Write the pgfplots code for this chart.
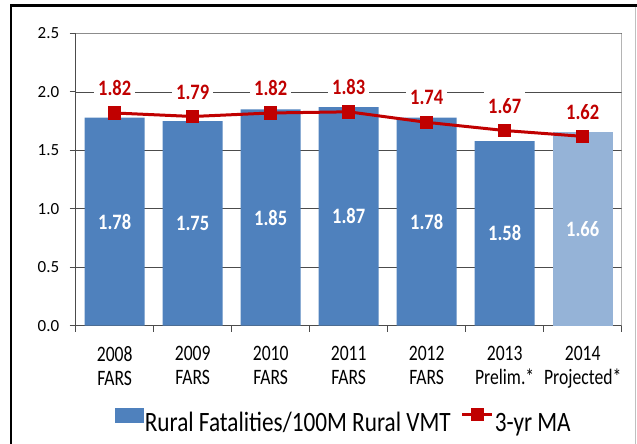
\documentclass[border=0pt]{standalone}
\usepackage{pgfplots}
\pgfplotsset{compat=1.18}
\usepackage{fontspec}
\setmainfont{Carlito}
\newfontfamily\legfont[FakeStretch=0.83]{Carlito}
\newfontfamily\xfont[FakeStretch=0.8]{Carlito}
\newfontfamily\labfont[FakeStretch=0.84]{Carlito}
\definecolor{barblue}{HTML}{4F81BD}
\definecolor{barlight}{HTML}{95B3D7}
\definecolor{lred}{HTML}{C00000}
\begin{document}
\begin{tikzpicture}
\useasboundingbox (0,0) rectangle (637bp,-444bp);
\draw[line width=2.7bp] (11bp,-444bp) -- (11bp,-5.3bp) -- (637bp,-5.3bp);
\draw[black!25, line width=1bp] (635.5bp,-6.7bp) -- (635.5bp,-444bp);
\begin{axis}[
  at={(75.7bp,-325.7bp)}, anchor=south west,
  scale only axis, width=546bp, height=292.2bp,
  xmin=-0.5, xmax=6.5, ymin=0, ymax=2.5,
  axis x line*=bottom, axis y line*=left,
  axis line style={black!70, line width=1bp},
  ytick={0,0.5,1,1.5,2,2.5},
  /pgf/number format/assume math mode=true,
  yticklabel style={font=\fontsize{17bp}{20bp}\selectfont, xshift=-7bp, /pgf/number format/.cd, fixed, fixed zerofill, precision=1},
  ymajorgrids, grid style={black!70, line width=0.8bp},
  tick align=outside, major tick length=6bp, minor tick length=6bp,
  ytick style={black!70, line width=1bp},
  xtick={0,...,6},
  xticklabels={{2008\\FARS},{2009\\FARS},{2010\\FARS},{2011\\FARS},{2012\\FARS},{2013\\Prelim.*},{2014\\Projected*}},
  major x tick style={draw=none},
  minor xtick={-0.5,0.5,...,6.5},
  minor x tick style={black!70, line width=1bp},
  xticklabel style={align=center, yshift=-11bp, font=\xfont\fontsize{22bp}{24bp}\selectfont},
  legend style={at={(0.49,-0.326)}, anchor=center, draw=none, fill=none,
    legend columns=-1, font=\legfont\fontsize{28bp}{32bp}\selectfont,
    /tikz/every even column/.append style={column sep=9bp},
    nodes={inner sep=1bp}},
]
\addplot[ybar, bar width=60bp, bar shift=0bp, fill=barblue, draw=none,
  nodes near coords={\pgfmathprintnumber[fixed,fixed zerofill,precision=2]{\pgfplotspointmeta}},
  nodes near coords align={center},
  visualization depends on={y \as \rawy},
  every node near coord/.append style={font=\labfont\bfseries\fontsize{22bp}{26bp}\selectfont, text=white, anchor=center, shift={(axis direction cs:0,-\rawy/2)}},
  legend image code/.code={\fill[barblue] (0bp,0bp) rectangle (29bp,15bp);}
] coordinates {(0,1.78) (1,1.75) (2,1.85) (3,1.87) (4,1.78) (5,1.58)};
\addlegendentry{Rural Fatalities/100M Rural VMT}
\addplot[ybar, bar width=60bp, bar shift=0bp, fill=barlight, draw=none, forget plot,
  nodes near coords={\pgfmathprintnumber[fixed,fixed zerofill,precision=2]{\pgfplotspointmeta}},
  nodes near coords align={center},
  visualization depends on={y \as \rawy},
  every node near coord/.append style={font=\labfont\bfseries\fontsize{22bp}{26bp}\selectfont, text=white, anchor=center, shift={(axis direction cs:0,-\rawy/2)}}
] coordinates {(6,1.66)};
\addplot[lred, line width=3bp, mark=square*, mark size=5.3bp, mark options={solid, fill=lred},
  nodes near coords={\pgfmathprintnumber[fixed,fixed zerofill,precision=2]{\pgfplotspointmeta}},
  nodes near coords align={center},
  every node near coord/.append style={font=\labfont\bfseries\fontsize{22bp}{26bp}\selectfont, text=lred, fill=white, inner xsep=4bp, inner ysep=8bp, anchor=center, yshift=24.5bp},
  legend image code/.code={\draw[lred, line width=3bp] (0bp,8.5bp) -- (30bp,8.5bp); \fill[lred] (9.7bp,3.2bp) rectangle (20.3bp,13.8bp);}
] coordinates {(0,1.82) (1,1.79) (2,1.82) (3,1.83) (4,1.74) (5,1.67) (6,1.62)};
\addlegendentry{3-yr MA}
\draw[black!45, line width=1bp] (rel axis cs:0,1) -- (rel axis cs:1,1) -- (rel axis cs:1,0);
\end{axis}
\end{tikzpicture}
\end{document}
